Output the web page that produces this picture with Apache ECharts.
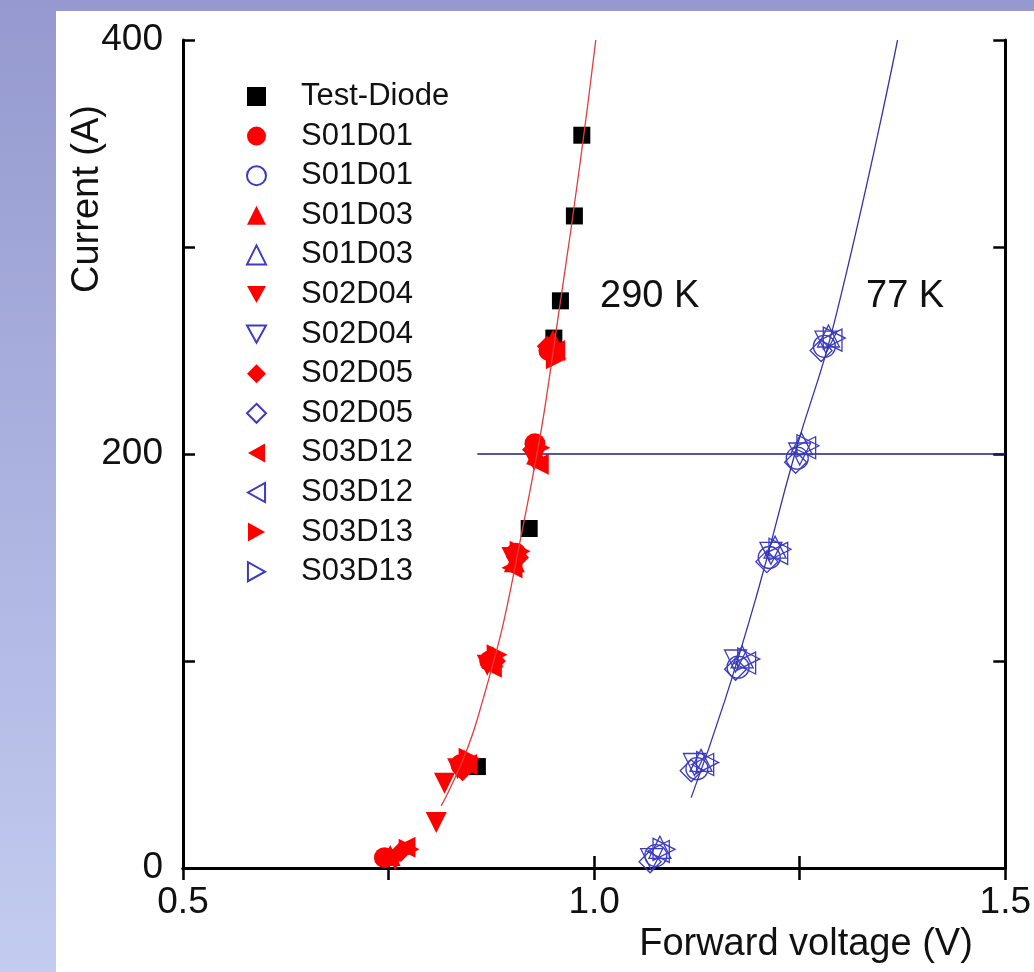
<html>
<head>
  <meta charset="utf-8">
  <title>Forward voltage</title>
  <script type="text/javascript" src="https://cdn.jsdelivr.net/npm/echarts@6/dist/echarts.min.js"></script>
  <style>
    body { margin: 0; width: 1034px; height: 972px; overflow: hidden;
           background: linear-gradient(to bottom, #9599cf, #c3ccf0); }
    #panel { position: absolute; left: 56px; top: 11px; right: 0; bottom: 0; background: #fff; }
    #chartmain { position: absolute; left: 0; top: 0; width: 1034px; height: 972px; }
  </style>
</head>
<body>
<div id="panel"></div>
<div id="chartmain"></div>
</body>
<script type="text/javascript">
  // Test diode (black squares)
  let testDiode = [[0.858, 49], [0.921, 164], [0.951, 256], [0.959, 274], [0.976, 315], [0.985, 354]];
  // 290 K, filled red markers
  let s01d01_290 = [[0.745, 5], [0.838, 50], [0.873, 100], [0.905, 152], [0.928, 205], [0.945, 250]];
  let s01d03_290 = [[0.752, 6], [0.842, 52], [0.877, 102], [0.903, 148], [0.930, 200], [0.950, 255]];
  let s02d04_290 = [[0.758, 4], [0.808, 22], [0.818, 41], [0.834, 48], [0.870, 98], [0.900, 150], [0.927, 197], [0.948, 247]];
  let s02d05_290 = [[0.765, 8], [0.840, 47], [0.880, 100], [0.908, 150], [0.925, 202], [0.943, 252]];
  let s03d12_290 = [[0.770, 10], [0.845, 50], [0.875, 97], [0.900, 145], [0.932, 195], [0.952, 250]];
  let s03d13_290 = [[0.775, 9], [0.848, 53], [0.882, 103], [0.910, 153], [0.934, 203], [0.954, 246]];
  // 77 K, open blue markers
  let s01d01_77 = [[1.075, 6], [1.125, 48], [1.175, 97], [1.213, 150], [1.247, 198], [1.280, 252]];
  let s01d03_77 = [[1.080, 10], [1.130, 52], [1.180, 102], [1.220, 155], [1.252, 205], [1.285, 257]];
  let s02d04_77 = [[1.070, 4], [1.122, 50], [1.172, 100], [1.215, 152], [1.250, 200], [1.282, 254]];
  let s02d05_77 = [[1.068, 3], [1.118, 47], [1.172, 96], [1.210, 148], [1.245, 196], [1.276, 250]];
  let s03d12_77 = [[1.078, 8], [1.132, 50], [1.183, 99], [1.222, 152], [1.256, 203], [1.288, 255]];
  let s03d13_77 = [[1.085, 9], [1.138, 51], [1.188, 101], [1.226, 154], [1.260, 204], [1.292, 256]];
  // fit curves and the 200 A reference line
  let fit290 = [[0.814, 30], [0.858, 72], [0.915, 168], [0.961, 279], [1.002, 400]];
  let fit77 = [[1.118, 34], [1.159, 81], [1.200, 135], [1.244, 200], [1.293, 265], [1.369, 400]];
  let line200 = [[0.858, 200], [1.5, 200]];

  let names = ['Test-Diode', 'S01D01', 'S01D01 77K', 'S01D03', 'S01D03 77K', 'S02D04', 'S02D04 77K',
               'S02D05', 'S02D05 77K', 'S03D12', 'S03D12 77K', 'S03D13', 'S03D13 77K'];

  let font = "'Liberation Sans', Arial, sans-serif";
  let red = '#ff0000';
  let blue = '#3b3bc4';
  let triDown = 'path://M0,0 L10,0 L5,9 Z';
  let triLeft = 'path://M9,0 L9,10 L0,5 Z';
  let triRight = 'path://M0,0 L0,10 L9,5 Z';

  function hot(name, symbol, data) {
    return { name: name, type: 'scatter', symbol: symbol, symbolSize: 21, data: data,
             itemStyle: { color: red, opacity: 1 }, z: 3 };
  }
  function cold(name, symbol, data) {
    return { name: name, type: 'scatter', symbol: symbol, symbolSize: 22, data: data,
             itemStyle: { color: 'rgba(255,255,255,0)', borderColor: blue, borderWidth: 1.3, opacity: 1 }, z: 3 };
  }

  let tick = { inside: true, length: 12, lineStyle: { color: '#000', width: 2.5 } };
  let frame = { lineStyle: { color: '#000', width: 3 } };

  let option = {
    backgroundColor: 'transparent',
    animation: false,
    grid: { left: 183, right: 26, top: 40, bottom: 104 },
    xAxis: [
      { type: 'value', position: 'bottom', min: 0.5, max: 1.5, interval: 0.25,
        axisLine: frame, axisTick: tick, splitLine: { show: false },
        axisLabel: { margin: 16, color: '#111', fontSize: 37, fontFamily: font,
                     formatter: function (v) { return Math.abs(v * 2 - Math.round(v * 2)) < 1e-6 ? v.toFixed(1) : ''; } } },
      { type: 'value', position: 'top', min: 0.5, max: 1.5, interval: 0.25,
        axisLine: frame, axisTick: tick, splitLine: { show: false }, axisLabel: { show: false } }
    ],
    yAxis: [
      { type: 'value', position: 'left', min: 0, max: 400, interval: 100,
        axisLine: frame, axisTick: tick, splitLine: { show: false },
        axisLabel: { margin: 20, color: '#111', fontSize: 37, fontFamily: font,
                     formatter: function (v) { return v % 200 === 0 ? String(v) : ''; } } },
      { type: 'value', position: 'right', min: 0, max: 400, interval: 100,
        axisLine: frame, axisTick: tick, splitLine: { show: false }, axisLabel: { show: false } }
    ],
    legend: {
      orient: 'vertical', left: 241, top: 76,
      itemWidth: 19, itemHeight: 19, itemGap: 8.6,
      data: names,
      formatter: function (n) { return n.replace(' 77K', ''); },
      textStyle: { fontSize: 31, lineHeight: 31, color: '#111', fontFamily: font, padding: [0, 0, 0, 30] }
    },
    graphic: [
      { type: 'text', x: 88, y: 199, rotation: Math.PI / 2,
        style: { text: 'Current (A)', font: '38px ' + font, fill: '#111', textAlign: 'center', textVerticalAlign: 'middle' } },
      { type: 'text', x: 806, y: 945,
        style: { text: 'Forward voltage (V)', font: '38px ' + font, fill: '#111', textAlign: 'center', textVerticalAlign: 'middle' } },
      { type: 'text', x: 600, y: 297,
        style: { text: '290 K', font: '38px ' + font, fill: '#111', textAlign: 'left', textVerticalAlign: 'middle' } },
      { type: 'text', x: 866, y: 297,
        style: { text: '77 K', font: '38px ' + font, fill: '#111', textAlign: 'left', textVerticalAlign: 'middle' } }
    ],
    series: [
      { name: 'ref200', type: 'line', data: line200, showSymbol: false, silent: true, z: 1,
        lineStyle: { color: '#1c1c80', width: 1.5 } },
      { name: 'Test-Diode', type: 'scatter', symbol: 'rect', symbolSize: 17, data: testDiode,
        itemStyle: { color: '#000', opacity: 1 }, z: 3 },
      hot('S01D01', 'circle', s01d01_290),
      cold('S01D01 77K', 'circle', s01d01_77),
      hot('S01D03', 'triangle', s01d03_290),
      cold('S01D03 77K', 'triangle', s01d03_77),
      hot('S02D04', triDown, s02d04_290),
      cold('S02D04 77K', triDown, s02d04_77),
      hot('S02D05', 'diamond', s02d05_290),
      cold('S02D05 77K', 'diamond', s02d05_77),
      hot('S03D12', triLeft, s03d12_290),
      cold('S03D12 77K', triLeft, s03d12_77),
      hot('S03D13', triRight, s03d13_290),
      cold('S03D13 77K', triRight, s03d13_77),
      { name: 'fit290', type: 'line', data: fit290, smooth: true, showSymbol: false, silent: true, z: 4,
        lineStyle: { color: '#e23c3c', width: 1.3 } },
      { name: 'fit77', type: 'line', data: fit77, smooth: true, showSymbol: false, silent: true, z: 4,
        lineStyle: { color: '#3434a8', width: 1.3 } }
    ]
  };

  let myChart = echarts.init(document.getElementById('chartmain'));
  myChart.setOption(option);
</script>
</html>
